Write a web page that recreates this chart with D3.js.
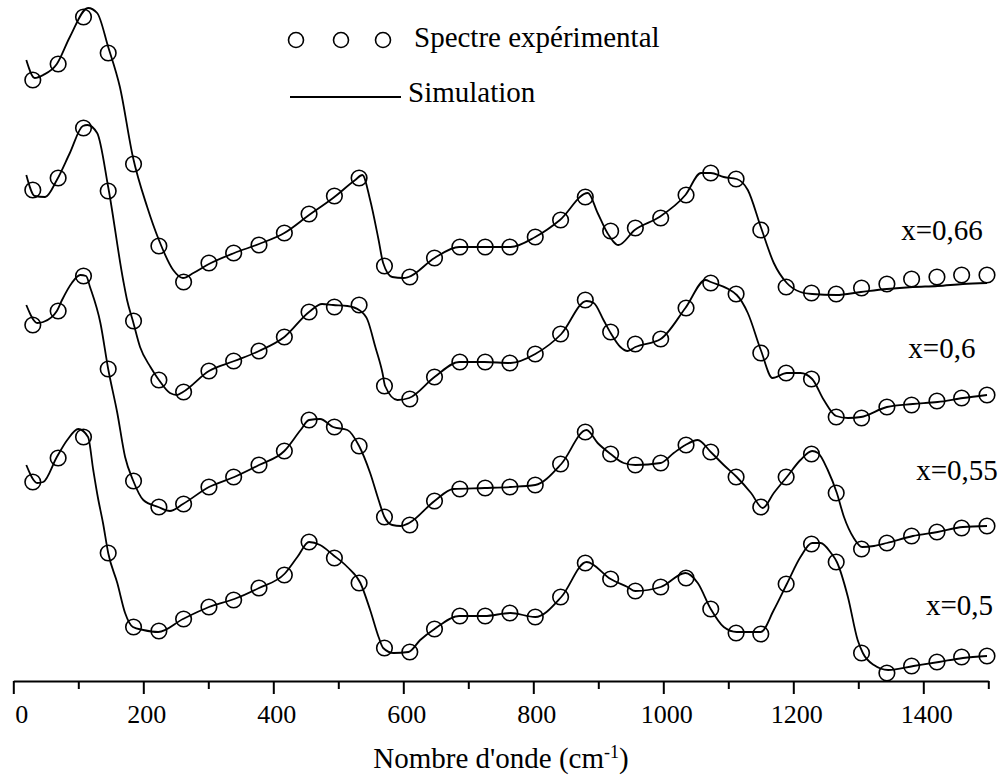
<!DOCTYPE html>
<html>
<head>
<meta charset="utf-8">
<script src="https://cdn.jsdelivr.net/npm/d3@7"></script>
<style>
  html, body { margin: 0; padding: 0; background: #fff; }
  svg { display: block; }
  text { font-family: "Liberation Serif", "Times New Roman", serif; fill: #000; }
</style>
</head>
<body>
<svg id="chart" width="1000" height="778"></svg>
<script>
// ---------- DATA ----------
// wavenumbers (cm-1) of experimental points
const wavenumbers = [30,69,108,146,185,224,262,301,339,378,417,455,494,532,571,610,648,687,726,764,803,842,880,919,957,996,1035,1073,1112,1150,1189,1228,1266,1305,1344,1382,1421,1459,1498];

// experimental spectra (arbitrary intensity, offset spectra)
const exp066 = [60.1,61.7,66.4,62.8,51.7,43.5,39.9,41.8,42.8,43.6,44.8,46.7,48.5,50.3,41.5,40.4,42.3,43.4,43.4,43.4,44.4,46.1,48.4,45.0,45.3,46.3,48.6,50.8,50.2,45.1,39.4,38.8,38.7,39.3,39.7,40.2,40.4,40.6,40.6];
const exp060 = [49.1,50.3,55.3,49.0,36.0,30.1,28.9,31.0,32.0,33.0,34.4,36.9,37.4,37.6,29.5,28.2,30.4,31.9,31.9,31.8,32.7,34.7,38.1,34.9,33.7,34.2,37.3,39.8,38.7,32.8,30.8,30.2,26.4,26.3,27.4,27.6,28.0,28.3,28.6];
const exp055 = [35.6,37.0,40.5,31.2,20.0,17.4,17.7,19.4,20.4,21.6,23.0,26.1,25.4,23.5,16.4,15.6,18.0,19.2,19.3,19.4,19.6,21.7,24.9,22.7,21.6,21.8,23.6,22.9,20.4,17.4,20.4,22.7,18.8,13.2,13.8,14.5,14.9,15.3,15.5];
const exp050 = [19.9,22.3,24.4,12.8,5.4,5.0,6.2,7.4,8.1,9.3,10.6,13.9,12.3,9.8,3.3,2.9,5.2,6.5,6.5,6.8,6.4,8.4,11.8,10.2,9.0,9.4,10.3,7.2,4.8,4.7,9.7,13.7,11.9,2.8,0.8,1.5,1.9,2.4,2.5];

// simulated spectra: [wavenumber, intensity]
const sim066 = [[20,62.1],[33,60.3],[46,60.6],[67,61.7],[87,64.4],[115,67.3],[129,66.8],[146,63.4],[164,59.4],[184,52.4],[206,47.4],[224,44.1],[246,41.1],[261,40.3],[277,40.8],[301,41.7],[340,42.8],[378,43.7],[417,44.8],[455,46.6],[492,48.3],[526,50.1],[537,50.6],[549,48.1],[562,44.1],[569,41.8],[583,40.4],[600,40.3],[608,40.4],[648,42.3],[686,43.4],[725,43.4],[765,43.4],[803,44.4],[841,46.1],[884,48.8],[899,46.8],[914,44.8],[931,43.6],[956,45.1],[994,46.4],[1034,48.6],[1058,50.8],[1073,50.8],[1093,50.4],[1113,50.2],[1130,49.1],[1150,45.4],[1170,41.8],[1190,39.8],[1211,38.9],[1229,38.7],[1266,38.6],[1304,38.9],[1344,39.2],[1384,39.4],[1422,39.5],[1461,39.7],[1498,39.8]];
const sim060 = [[20,50.6],[33,48.5],[49,48.4],[67,50.1],[87,52.8],[107,55.5],[114,55.6],[129,54.8],[146,49.4],[169,40.1],[175,38.1],[184,36.0],[195,33.4],[211,31.4],[224,30.1],[241,28.8],[252,28.6],[261,28.9],[301,31.0],[340,32.0],[378,33.0],[417,34.4],[455,36.9],[475,37.7],[492,37.6],[514,37.5],[532,37.1],[545,36.1],[557,33.4],[568,30.8],[572,29.5],[591,28.1],[609,28.3],[648,30.4],[686,31.9],[725,31.9],[765,31.8],[803,32.7],[843,34.7],[882,38.0],[893,37.8],[908,36.1],[919,34.8],[934,33.4],[945,33.0],[957,33.4],[996,34.2],[1034,37.3],[1065,40.1],[1073,39.9],[1113,38.6],[1130,36.8],[1150,33.1],[1168,30.3],[1190,30.8],[1211,30.8],[1229,30.2],[1247,28.1],[1266,26.5],[1284,26.3],[1304,26.4],[1344,27.4],[1384,27.7],[1422,27.9],[1461,28.3],[1498,28.6]];
const sim055 = [[20,37.6],[37,35.8],[46,35.9],[67,37.0],[75,38.1],[90,39.8],[103,40.6],[112,40.5],[118,39.4],[134,35.8],[146,31.2],[160,26.8],[172,22.4],[184,20.1],[200,18.1],[223,17.4],[241,17.0],[261,17.7],[301,19.4],[340,20.4],[378,21.6],[417,23.0],[442,25.1],[455,26.1],[472,26.2],[492,25.4],[514,25.1],[532,23.5],[549,20.8],[562,18.1],[571,16.4],[583,15.6],[596,15.5],[609,15.8],[648,18.0],[677,19.2],[725,19.3],[765,19.4],[803,19.6],[843,21.7],[882,25.1],[899,23.8],[919,22.7],[939,21.8],[957,21.6],[996,21.8],[1016,22.8],[1034,23.6],[1053,24.1],[1073,22.9],[1093,21.6],[1113,20.4],[1135,18.8],[1153,17.3],[1170,18.8],[1190,20.4],[1211,22.1],[1229,23.0],[1238,22.8],[1253,21.1],[1267,18.8],[1278,16.4],[1293,14.3],[1306,13.4],[1324,13.5],[1344,13.8],[1384,14.5],[1422,14.9],[1461,15.4],[1498,15.5]];
const sim050 = [[20,21.6],[37,19.8],[46,19.9],[67,22.4],[83,24.1],[100,25.2],[115,24.4],[123,21.1],[130,18.4],[138,15.8],[146,12.8],[160,9.8],[172,6.8],[184,5.4],[200,5.1],[223,4.9],[261,6.2],[301,7.4],[340,8.2],[378,9.3],[417,10.7],[437,12.4],[455,13.9],[472,13.6],[492,12.6],[514,11.4],[534,9.8],[549,7.1],[562,4.4],[569,3.3],[585,2.8],[608,2.9],[626,4.1],[648,5.2],[686,6.5],[725,6.5],[765,6.8],[803,6.4],[843,8.4],[882,11.9],[919,10.2],[945,9.4],[957,9.0],[996,9.4],[1034,10.8],[1053,9.8],[1073,7.2],[1093,5.4],[1113,4.9],[1150,4.9],[1170,7.1],[1190,9.7],[1211,12.4],[1229,13.8],[1242,13.8],[1258,12.8],[1267,11.9],[1284,8.4],[1299,4.1],[1307,2.8],[1324,1.6],[1346,1.1],[1385,1.5],[1424,1.9],[1461,2.3],[1498,2.5]];

const seriesLabels = ["x=0,66", "x=0,6", "x=0,55", "x=0,5"];
const majorTicks = [0,200,400,600,800,1000,1200,1400];
const minorTicks = [100,300,500,700,900,1100,1300,1500];
const legendLabels = ["Spectre expérimental", "Simulation"];
const xTitle = "Nombre d'onde (cm";

// ---------- DRAWING ----------
const svg = d3.select("#chart");
const x = d3.scaleLinear().domain([0, 1500]).range([13.3, 988.3]);
const y = d3.scaleLinear().domain([0, 68.1]).range([681, 0]);

const expSets = [exp066, exp060, exp055, exp050];
const simSets = [sim066, sim060, sim055, sim050];

const line = d3.line()
  .x(d => x(d[0]))
  .y(d => y(d[1]))
  .curve(d3.curveMonotoneX);

simSets.forEach(s => {
  svg.append("path")
    .attr("d", line(s))
    .attr("fill", "none")
    .attr("stroke", "#000")
    .attr("stroke-width", 1.8)
    .attr("stroke-linejoin", "round");
});

expSets.forEach(vals => {
  svg.append("g").selectAll("circle")
    .data(vals.map((v, i) => [wavenumbers[i], v]))
    .join("circle")
    .attr("cx", d => x(d[0]))
    .attr("cy", d => y(d[1]))
    .attr("r", 7.8)
    .attr("fill", "none")
    .attr("stroke", "#000")
    .attr("stroke-width", 1.6);
});

// series labels (placed in data space)
const labelPos = [[1366, 44.1], [1377, 32.3], [1389, 20.1], [1404, 6.6]];
seriesLabels.forEach((t, i) => {
  svg.append("text")
    .attr("x", x(labelPos[i][0]))
    .attr("y", y(labelPos[i][1]))
    .attr("font-size", 29)
    .text(t);
});

// x axis
const axisG = svg.append("g").attr("transform", `translate(0,${y(0)})`);
axisG.call(d3.axisBottom(x).tickValues(majorTicks).tickSize(13).tickSizeOuter(0).tickFormat(d3.format("d")));
axisG.select(".domain").attr("stroke", "#000").attr("stroke-width", 2);
axisG.selectAll(".tick line").attr("stroke", "#000").attr("stroke-width", 2);
axisG.selectAll(".tick text")
  .attr("font-family", "'Liberation Serif', 'Times New Roman', serif")
  .attr("font-size", 26)
  .attr("fill", "#000")
  .attr("y", 0)
  .attr("dy", 42)
  .attr("dx", d => d === 0 ? 8 : 3);

const minorG = svg.append("g").attr("transform", `translate(0,${y(0)})`);
minorG.call(d3.axisBottom(x).tickValues(minorTicks).tickSize(8).tickSizeOuter(0).tickFormat(""));
minorG.select(".domain").remove();
minorG.selectAll(".tick line").attr("stroke", "#000").attr("stroke-width", 2);

// axis title
const title = svg.append("text")
  .attr("x", 501)
  .attr("y", 768)
  .attr("text-anchor", "middle")
  .attr("font-size", 29);
title.append("tspan").text(xTitle);
title.append("tspan").attr("font-size", 18).attr("dy", -10).text("-1");
title.append("tspan").attr("dy", 10).text(")");

// legend
const legendCircleX = [296, 341, 383];
legendCircleX.forEach(cx => {
  svg.append("circle")
    .attr("cx", cx)
    .attr("cy", 40)
    .attr("r", 7.5)
    .attr("fill", "none")
    .attr("stroke", "#000")
    .attr("stroke-width", 1.6);
});
svg.append("text").attr("x", 414).attr("y", 47).attr("font-size", 29).text(legendLabels[0]);
svg.append("line").attr("x1", 290).attr("x2", 401).attr("y1", 97).attr("y2", 97)
  .attr("stroke", "#000").attr("stroke-width", 1.8);
svg.append("text").attr("x", 408).attr("y", 102).attr("font-size", 29).text(legendLabels[1]);
</script>
</body>
</html>
